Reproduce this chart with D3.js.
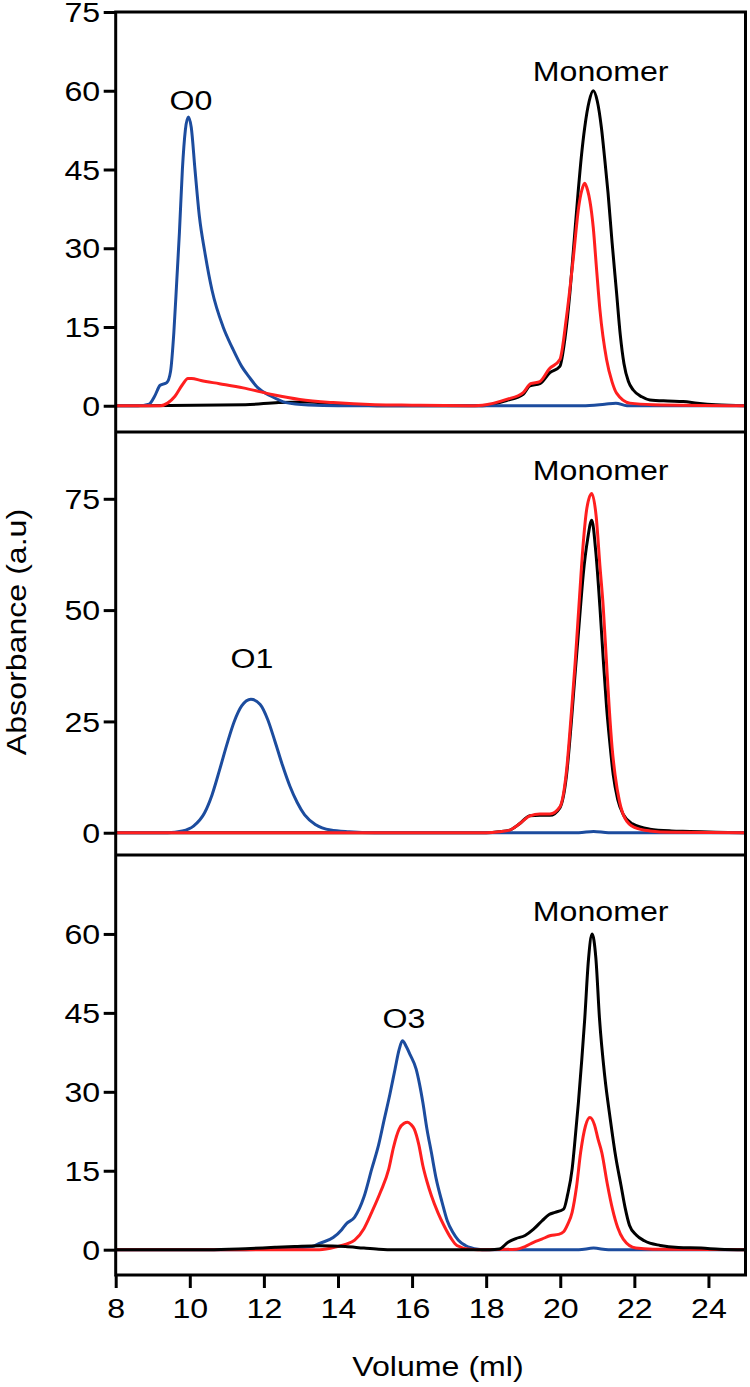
<!DOCTYPE html>
<html>
<head>
<meta charset="utf-8">
<script src="https://cdn.jsdelivr.net/npm/d3@7"></script>
<style>
html,body{margin:0;padding:0;background:#fff;}
svg{display:block;font-family:"Liberation Sans",Arial,Helvetica,sans-serif;}
</style>
</head>
<body>
<svg id="chart" width="750" height="1387"></svg>
<script>
// ---------- data (volume ml, absorbance a.u.) ----------
const xTicks = [8,10,12,14,16,18,20,22,24];
const topTicks = [0,15,30,45,60,75];
const midTicks = [0,25,50,75];
const botTicks = [0,15,30,45,60];

const topBlack = [[8,0],[11.5,0.2],[12.4,0.6],[13.2,0.7],[13.8,0.4],[14.6,0.1],[15.5,0],[17.9,0],[18.55,1.0],[19.0,2.2],[19.18,3.8],[19.45,4.2],[19.72,6.3],[19.99,7.5],[20.13,13],[20.26,21.5],[20.37,31],[20.48,40.5],[20.57,47.5],[20.66,53],[20.78,58],[20.89,60],[21.0,58],[21.11,53],[21.2,47],[21.29,40.5],[21.4,31],[21.52,21.5],[21.62,13.5],[21.72,8],[21.84,4.6],[21.97,3],[22.2,1.7],[22.42,1.1],[22.9,0.9],[23.32,0.8],[23.7,0.5],[24.2,0.2],[25,0]];
const topBlue = [[8,0],[8.6,0],[8.9,0.3],[9.05,1.8],[9.2,3.9],[9.38,4.4],[9.48,6.5],[9.57,14],[9.65,24],[9.72,33],[9.8,45],[9.88,52.5],[9.96,55],[10.04,53],[10.14,45],[10.26,36],[10.4,29.5],[10.6,22],[10.9,15],[11.15,11],[11.4,7.5],[11.6,5.5],[11.84,3.4],[12.2,1.8],[12.6,0.6],[13.2,0.15],[14,0],[20.6,0],[21.2,0.3],[21.5,0.5],[21.8,0],[25,0]];
const topRed = [[8,0],[9.2,0],[9.4,0.5],[9.6,1.8],[9.8,4],[9.95,5.2],[10.05,5.2],[10.3,4.8],[10.8,4.2],[11.44,3.4],[12.25,2.1],[12.97,1.2],[13.87,0.6],[15,0.2],[16,0.1],[17.5,0],[17.9,0.1],[18.55,1.2],[19.0,2.5],[19.2,4.2],[19.45,4.6],[19.7,7],[19.99,8.8],[20.17,17],[20.35,28],[20.5,38],[20.58,41],[20.66,42.4],[20.74,41],[20.8,39],[20.89,34],[20.98,26],[21.07,18.3],[21.25,8.8],[21.4,4.5],[21.52,2.4],[21.88,0.5],[22.5,0.2],[25,0]];

const midBlack = [[8,0],[18,0],[18.35,0.2],[18.64,0.6],[18.9,2],[19.18,3.8],[19.45,3.9],[19.72,3.9],[19.99,5.6],[20.17,13],[20.3,25],[20.4,35.7],[20.52,48],[20.62,58],[20.74,66],[20.85,70.2],[20.96,63],[21.07,50.7],[21.16,39],[21.25,28.2],[21.34,20],[21.43,13],[21.55,7.5],[21.7,4.1],[21.95,2],[22.42,0.8],[23,0.4],[23.5,0.3],[24.2,0.1],[25,0]];
const midBlue = [[8,0],[9.4,0],[9.8,0.4],[10.1,1.5],[10.4,4.5],[10.6,8.5],[10.8,14],[11.0,19.8],[11.2,25],[11.4,28.5],[11.65,30],[11.9,28.8],[12.1,25.5],[12.3,20.5],[12.5,15.2],[12.7,10.5],[12.9,6.8],[13.1,4],[13.4,1.8],[13.8,0.6],[14.3,0.2],[15,0],[20.5,0],[20.9,0.3],[21.3,0],[25,0]];
const midRed = [[8,0],[18,0],[18.35,0.2],[18.64,0.6],[18.9,2],[19.18,3.8],[19.45,4.2],[19.72,4.2],[19.99,5.8],[20.17,14],[20.3,27],[20.4,38],[20.52,53],[20.62,65],[20.72,73],[20.85,76.2],[20.97,71],[21.07,60],[21.16,50.7],[21.25,38],[21.32,28.2],[21.4,19],[21.48,13],[21.6,7],[21.75,3.2],[22.0,1.2],[22.42,0.4],[23,0.1],[25,0]];

const botBlack = [[8,0],[10.5,0],[11.5,0.2],[12.3,0.45],[12.83,0.6],[13.5,0.75],[14.2,0.6],[14.7,0.3],[15.1,0.1],[15.5,0],[18.1,0],[18.36,0.15],[18.59,1.4],[18.8,2.1],[19.05,2.7],[19.28,3.9],[19.51,5.5],[19.7,6.7],[19.86,7.1],[20.09,7.7],[20.2,10.5],[20.32,15.3],[20.4,21],[20.49,28],[20.58,36],[20.66,43.8],[20.76,55],[20.86,60],[20.96,55.5],[21.06,43.8],[21.2,33],[21.35,24.8],[21.5,17.5],[21.64,12.2],[21.75,8],[21.87,4.6],[22.05,2.8],[22.27,1.7],[22.7,0.8],[23.19,0.4],[23.8,0.3],[24.3,0.1],[25,0]];
const botBlue = [[8,0],[11.5,0],[12.5,0.2],[13.3,0.6],[13.5,1.2],[13.87,2.3],[14.1,3.8],[14.22,4.9],[14.45,6.2],[14.7,10],[14.91,15.3],[15.1,20],[15.25,24.8],[15.4,29.5],[15.54,34.3],[15.65,38],[15.74,39.7],[15.85,38.5],[15.95,37],[16.11,34.3],[16.2,31.5],[16.29,28],[16.4,23],[16.52,18.5],[16.65,13.5],[16.81,9],[16.95,5.5],[17.1,3.3],[17.25,1.8],[17.44,0.8],[17.78,0.1],[18,0],[20.5,0],[20.9,0.3],[21.3,0],[25,0]];
const botRed = [[8,0],[13.5,0],[13.99,0.6],[14.2,1],[14.45,1.8],[14.7,4],[14.91,7.1],[15.15,11],[15.37,15.3],[15.5,19.5],[15.65,22.9],[15.78,24],[15.88,24.2],[15.97,23.8],[16.06,22.9],[16.18,20],[16.29,16],[16.4,13],[16.52,10.3],[16.7,7],[16.86,4.6],[17.05,2.2],[17.21,0.8],[17.55,0.1],[18,0],[18.82,0.1],[19.05,0.6],[19.28,1.4],[19.5,2],[19.74,2.7],[19.95,2.9],[20.09,3.4],[20.2,4.8],[20.32,7.1],[20.44,12],[20.55,18.5],[20.68,23.5],[20.8,25.1],[20.92,23.8],[21.02,21],[21.12,18.5],[21.27,12.5],[21.41,7.7],[21.55,4.2],[21.7,2],[22.04,0.3],[22.5,0.1],[25,0]];

const topLabels = [{t:"O0",x:10.03,y:56.3},{t:"Monomer",x:21.09,y:61.9}];
const midLabels = [{t:"O1",x:11.68,y:37},{t:"Monomer",x:21.09,y:79.2}];
const botLabels = [{t:"O3",x:15.78,y:42.2},{t:"Monomer",x:21.09,y:62.4}];

const xTitle = "Volume (ml)";
const yTitle = "Absorbance (a.u)";

// ---------- layout ----------
const COLORS = {black:"#000000", blue:"#1c4c9e", red:"#ff1f1f"};
const SX = 1.19, FS = 27;
const LEFT = 115.7, RIGHT = 745.5;
const svg = d3.select("#chart");

const x = d3.scaleLinear().domain([8,25]).range([LEFT, RIGHT]);

const panels = [
  {domain:[-5,75], range:[432,12], ticks:topTicks, series:[["black",topBlack],["blue",topBlue],["red",topRed]], labels:topLabels},
  {domain:[-5,90], range:[855,432], ticks:midTicks, series:[["black",midBlack],["blue",midBlue],["red",midRed]], labels:midLabels},
  {domain:[-5,75], range:[1276,855], ticks:botTicks, series:[["blue",botBlue],["red",botRed],["black",botBlack]], labels:botLabels}
];

function sText(g, px, py, str, anchor, rot){
  return g.append("text")
    .attr("transform", `translate(${px},${py})${rot?` rotate(${rot})`:""} scale(${SX},1)`)
    .attr("text-anchor", anchor)
    .attr("font-size", FS)
    .attr("fill", "#000")
    .text(str);
}

svg.append("defs").append("clipPath").attr("id","clipAll")
  .append("rect").attr("x",LEFT).attr("y",12).attr("width",RIGHT-LEFT).attr("height",1276-12);

panels.forEach((p,i) => {
  const y = d3.scaleLinear().domain(p.domain).range(p.range);
  const g = svg.append("g");
  const line = d3.line().x(d=>x(d[0])).y(d=>y(d[1])).curve(d3.curveMonotoneX);
  const cg = g.append("g").attr("clip-path","url(#clipAll)");
  p.series.forEach(([c,data]) => {
    cg.append("path").datum(data)
      .attr("d", line)
      .attr("fill","none")
      .attr("stroke", COLORS[c])
      .attr("stroke-width", 3)
      .attr("stroke-linejoin","round");
  });
  // y axis
  const ax = g.append("g").attr("transform",`translate(${LEFT},0)`)
    .call(d3.axisLeft(y).tickValues(p.ticks).tickSize(12).tickSizeOuter(0));
  ax.select(".domain").remove();
  ax.selectAll(".tick line").attr("stroke","#000").attr("stroke-width",3);
  ax.selectAll(".tick text").each(function(d){
    d3.select(this).attr("x",null).attr("dy","0.36em")
      .attr("transform",`translate(-15.5,0) scale(${SX},1)`)
      .attr("font-size",FS).attr("font-family",null).attr("fill","#000");
  });
  ax.attr("font-family",null).attr("font-size",null);
  // peak labels
  p.labels.forEach(l => sText(g, x(l.x), y(l.y), l.t, "middle"));
});

// frame
const frame = svg.append("g").attr("fill","none").attr("stroke","#000").attr("stroke-width",3);
frame.append("rect").attr("x",LEFT).attr("y",12).attr("width",RIGHT-LEFT).attr("height",1275-12);
[432,855].forEach(yy => frame.append("line").attr("x1",LEFT).attr("x2",RIGHT).attr("y1",yy).attr("y2",yy));

// x axis
const xa = svg.append("g").attr("transform","translate(0,1275)")
  .call(d3.axisBottom(x).tickValues(xTicks).tickSize(13).tickSizeOuter(0));
xa.select(".domain").remove();
xa.selectAll(".tick line").attr("stroke","#000").attr("stroke-width",3);
xa.selectAll(".tick text").each(function(){
  d3.select(this).attr("y",null).attr("dy",null)
    .attr("transform",`translate(0,43) scale(${SX},1)`)
    .attr("font-size",FS).attr("fill","#000");
});
xa.attr("font-family",null).attr("font-size",null);

// titles
sText(svg, 438, 1376, xTitle, "middle");
sText(svg, 26, 632, yTitle, "middle", -90);
</script>
</body>
</html>
